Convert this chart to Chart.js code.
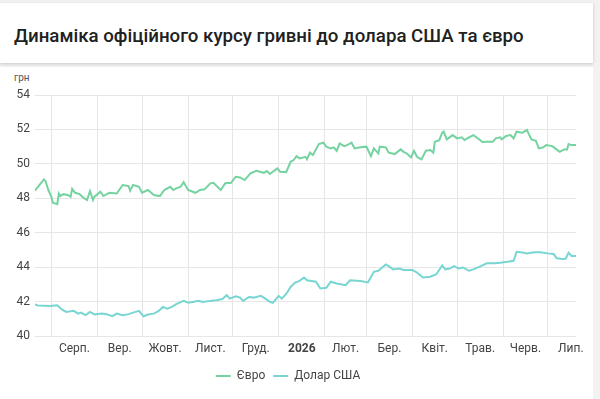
<!DOCTYPE html>
<html lang="uk">
<head>
<meta charset="utf-8">
<script src="https://cdn.jsdelivr.net/npm/chart.js@4.4.1/dist/chart.umd.min.js"></script>
<style>
    html, body { margin: 0; padding: 0; }
    body {
        width: 600px;
        height: 399px;
        background: #f2f2f2;
        font-family: Roboto, "Noto Sans", sans-serif;
        position: relative;
        overflow: hidden;
    }
    .title-card {
        position: absolute;
        left: 0; top: 3px;
        width: 593px; height: 60px;
        background: #fff;
        box-shadow: 0 1px 3px rgba(0,0,0,0.18);
    }
    .title-card h1 {
        margin: 0;
        position: absolute;
        left: 14px; top: 22px;
        font-size: 18.7px;
        font-weight: 500;
        color: #212121;
    }
    .chart-card {
        position: absolute;
        left: 0; top: 67px;
        width: 593px; height: 332px;
        background: #fff;
    }
    .unit {
        position: absolute;
        left: 14px; top: 5px;
        font-size: 10px;
        color: #555;
    }
    .chart-box { position: absolute; left: 0; top: 0; width: 593px; height: 332px; }
</style>
</head>
<body>
<div class="title-card"><h1>Динаміка офіційного курсу гривні до долара США та євро</h1></div>
<div class="chart-card">
    <span class="unit">грн</span>
    <div class="chart-box"><canvas id="rateChart"></canvas></div>
</div>
<script>
// days counted from 21.07.2025
const eurDays = [0, 6, 7, 9, 11, 12, 15, 16, 17, 19, 22, 24, 25, 27, 30, 33, 35, 37, 39, 40, 44, 46, 50, 55, 59, 63, 64, 66, 70, 72, 76, 80, 84, 87, 91, 93, 95, 98, 100, 103, 108, 111, 114, 118, 120, 125, 128, 132, 135, 138, 141, 145, 149, 154, 156, 158, 163, 165, 169, 172, 174, 176, 178, 182, 183, 185, 187, 191, 194, 196, 199, 201, 203, 205, 208, 210, 213, 215, 219, 223, 226, 228, 231, 232, 236, 238, 242, 246, 248, 250, 253, 255, 257, 260, 263, 266, 268, 269, 272, 274, 275, 277, 278, 281, 284, 287, 289, 292, 295, 299, 301, 304, 308, 310, 313, 314, 317, 320, 322, 324, 328, 331, 332, 334, 337, 339, 342, 344, 348, 350, 353, 356, 358, 359, 361, 364];
const eurRates = [48.44, 49.1, 49.02, 48.48, 48.09, 47.74, 47.66, 48.28, 48.13, 48.24, 48.19, 48.09, 48.55, 48.32, 48.24, 48.0, 47.9, 48.42, 47.9, 48.09, 48.38, 48.13, 48.32, 48.28, 48.77, 48.71, 48.44, 48.77, 48.67, 48.32, 48.48, 48.19, 48.13, 48.48, 48.67, 48.48, 48.58, 48.67, 48.94, 48.48, 48.32, 48.48, 48.52, 48.87, 48.9, 48.48, 48.87, 48.9, 49.25, 49.21, 49.06, 49.45, 49.6, 49.48, 49.58, 49.41, 49.74, 49.54, 49.52, 50.12, 50.22, 50.45, 50.32, 50.41, 50.26, 50.65, 50.51, 51.15, 51.23, 51.0, 50.9, 50.96, 50.76, 51.19, 51.03, 51.09, 51.23, 50.9, 50.96, 51.0, 50.45, 50.9, 50.61, 51.0, 50.96, 50.65, 50.57, 50.84, 50.7, 50.61, 50.38, 50.76, 50.41, 50.26, 50.76, 50.8, 50.65, 51.28, 51.38, 51.81, 51.87, 51.42, 51.48, 51.67, 51.48, 51.54, 51.38, 51.54, 51.67, 51.42, 51.27, 51.28, 51.28, 51.48, 51.54, 51.42, 51.62, 51.67, 51.48, 51.87, 51.81, 51.97, 51.77, 51.42, 51.34, 50.9, 50.96, 51.09, 51.03, 50.9, 50.7, 50.84, 50.84, 51.15, 51.09, 51.09];

const usdDays = [0, 2, 10, 15, 18, 21, 26, 29, 31, 34, 37, 40, 45, 48, 52, 55, 59, 63, 66, 70, 71, 73, 76, 80, 83, 86, 89, 92, 95, 100, 103, 107, 110, 113, 118, 122, 126, 129, 131, 135, 138, 140, 144, 147, 152, 155, 158, 160, 164, 166, 169, 172, 175, 178, 181, 183, 189, 192, 196, 199, 203, 209, 212, 219, 224, 228, 231, 236, 238, 241, 245, 248, 254, 257, 261, 266, 270, 274, 276, 279, 282, 285, 288, 292, 295, 300, 304, 309, 313, 318, 322, 324, 328, 331, 336, 340, 345, 349, 351, 355, 357, 359, 361, 364];
const usdRates = [41.83, 41.77, 41.75, 41.79, 41.54, 41.4, 41.46, 41.3, 41.36, 41.21, 41.4, 41.25, 41.3, 41.27, 41.15, 41.3, 41.21, 41.27, 41.36, 41.46, 41.34, 41.15, 41.25, 41.3, 41.44, 41.69, 41.59, 41.69, 41.85, 42.04, 41.93, 41.99, 42.04, 41.97, 42.04, 42.08, 42.15, 42.37, 42.17, 42.31, 42.23, 42.04, 42.27, 42.23, 42.33, 42.17, 41.99, 41.93, 42.33, 42.17, 42.44, 42.85, 43.1, 43.2, 43.4, 43.24, 43.15, 42.76, 42.8, 43.15, 43.05, 42.95, 43.24, 43.2, 43.11, 43.73, 43.79, 44.16, 44.06, 43.87, 43.92, 43.83, 43.83, 43.69, 43.4, 43.44, 43.59, 44.1, 43.87, 43.92, 44.06, 43.92, 43.98, 43.79, 43.87, 44.06, 44.22, 44.22, 44.25, 44.31, 44.37, 44.89, 44.85, 44.8, 44.87, 44.87, 44.8, 44.76, 44.51, 44.47, 44.49, 44.84, 44.65, 44.65];

const monthLabels = ["Серп.", "Вер.", "Жовт.", "Лист.", "Груд.", "2026", "Лют.", "Бер.", "Квіт.", "Трав.", "Черв.", "Лип."];
const yTicks = [40, 42, 44, 46, 48, 50, 52, 54];

const startDate = Date.UTC(2025, 6, 21);
const lastDay = 364;
const DAY = 86400000;

// month boundaries (grid lines) and month middles (labels)
const gridDays = [];
const labelDays = [];
for (let i = 0; i < monthLabels.length; i++) {
    const a = (Date.UTC(2025, 7 + i, 1) - startDate) / DAY;
    const b = (Date.UTC(2025, 8 + i, 1) - startDate) / DAY;
    gridDays.push(a);
    labelDays.push(a + (b - a) / 2);
}

const EUR_COLOR = "#74d3a0";
const USD_COLOR = "#78d6d2";

function pairs(xs, ys) {
    return xs.map((x, i) => ({ x: x, y: ys[i] }));
}

let rateChart;

function initChart() {
    const el = document.getElementById("rateChart");
    if (rateChart) rateChart.destroy();

    rateChart = new Chart(el.getContext("2d"), {
        type: "line",
        data: {
            datasets: [
                {
                    label: "Євро",
                    data: pairs(eurDays, eurRates),
                    borderColor: EUR_COLOR,
                    backgroundColor: EUR_COLOR,
                    borderWidth: 2,
                    pointRadius: 0,
                    tension: 0,
                },
                {
                    label: "Долар США",
                    data: pairs(usdDays, usdRates),
                    borderColor: USD_COLOR,
                    backgroundColor: USD_COLOR,
                    borderWidth: 2,
                    pointRadius: 0,
                    tension: 0,
                },
            ],
        },
        options: {
            responsive: true,
            maintainAspectRatio: false,
            animation: false,
            layout: { padding: { top: 28, right: 17, left: 0, bottom: 7 } },
            plugins: {
                legend: {
                    position: "bottom",
                    labels: {
                        usePointStyle: true,
                        pointStyle: "line",
                        pointStyleWidth: 15,
                        padding: 8,
                        font: { family: "Roboto", size: 12 },
                        color: "#444",
                    },
                },
                tooltip: { enabled: false },
            },
            scales: {
                x: {
                    type: "linear",
                    min: 0,
                    max: lastDay,
                    border: { display: false },
                    afterBuildTicks: (scale) => {
                        const ticks = [];
                        gridDays.forEach((d) => ticks.push({ value: d, kind: "grid" }));
                        labelDays.forEach((d, i) => {
                            if (d <= lastDay) ticks.push({ value: d, kind: "label", text: monthLabels[i] });
                        });
                        ticks.sort((a, b) => a.value - b.value);
                        scale.ticks = ticks;
                    },
                    afterFit: (scale) => {
                        scale.height = 26;
                    },
                    grid: {
                        drawTicks: false,
                        color: (ctx) => (ctx.tick && ctx.tick.kind === "grid" ? "#e6e6e6" : "rgba(0,0,0,0)"),
                        lineWidth: 1,
                    },
                    ticks: {
                        autoSkip: false,
                        maxRotation: 0,
                        padding: 6,
                        color: "#444",
                        font: (ctx) => ({
                            family: "Roboto",
                            size: 12,
                            weight: ctx.tick && ctx.tick.text === "2026" ? "bold" : "normal",
                        }),
                        callback: function (val, index, ticks) {
                            const t = ticks[index];
                            return t.kind === "label" ? t.text : "";
                        },
                    },
                },
                y: {
                    min: 40,
                    max: 54,
                    border: { display: false },
                    afterBuildTicks: (scale) => {
                        scale.ticks = yTicks.map((v) => ({ value: v }));
                    },
                    afterFit: (scale) => {
                        scale.width = 35;
                    },
                    grid: { drawTicks: false, color: "#e6e6e6" },
                    ticks: {
                        padding: 5,
                        color: "#444",
                        font: { family: "Roboto", size: 12 },
                    },
                },
            },
        },
    });
}

document.addEventListener("DOMContentLoaded", () => {
    initChart();
});
</script>
</body>
</html>
